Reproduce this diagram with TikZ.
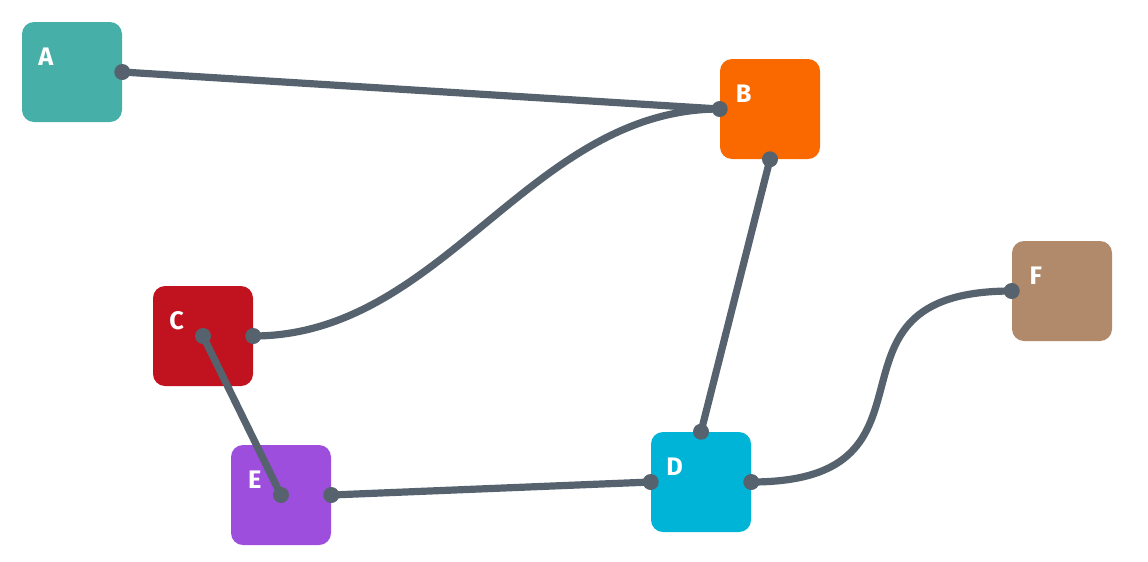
\documentclass[tikz,border=0pt]{standalone}
\usepackage{fontspec}
\setmainfont{Fira Sans}
\usetikzlibrary{positioning,calc}
\definecolor{edgegray}{HTML}{56626E}
\definecolor{nteal}{HTML}{45AFA8}
\definecolor{norange}{HTML}{F96900}
\definecolor{nred}{HTML}{C1121F}
\definecolor{ncyan}{HTML}{00B4D8}
\definecolor{npurple}{HTML}{9D4EDD}
\definecolor{nbrown}{HTML}{B08A6A}
\begin{document}
\begin{tikzpicture}[x=.75pt,y=-.75pt,
  box/.style={minimum size=75pt,inner sep=0pt,rounded corners=9pt,fill=#1},
  lbl/.style={text=white,font=\fontsize{19}{19}\selectfont\bfseries,inner sep=0pt},
  wire/.style={edgegray,line width=5.4pt,line cap=round},
  dot/.style={fill=edgegray}]
\useasboundingbox (0,0) rectangle (1148,561);
\node[box=nteal] (a) at (72,72){};\node[box=norange] (b) at (770,109){};\node[box=nred] (c) at (203,336){};
\node[box=ncyan] (d) at (701,482){};\node[box=npurple] (e) at (281,495){};\node[box=nbrown] (f) at (1062,291){};
\foreach \n/\t in {a/A,b/B,c/C,d/D,e/E,f/F} \node[lbl] (l\n) at ([shift={(24,35)}]\n.north west){\t};
\draw[wire] (a.east)--(b.west);\draw[wire] (c.east) .. controls +(190,0) and +(-190,0) .. (b.west);
\draw[wire] (c.center)--(e.center);\draw[wire] (e.east)--(d.west);\draw[wire] (b.south)--(d.north);
\draw[wire] (d.east) .. controls +(210,0) and +(-210,0) .. (f.west);
\foreach \p in {a.east,b.west,b.south,c.east,c.center,e.center,e.east,d.west,d.north,d.east,f.west} \fill[dot] (\p) circle (6pt);
\end{tikzpicture}
\end{document}
